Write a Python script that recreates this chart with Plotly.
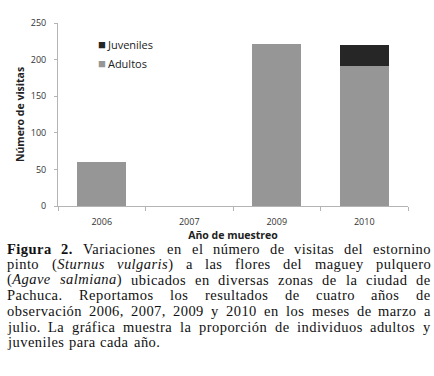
import re
import plotly.graph_objects as go

# ---------------- data ----------------
years = ["2006", "2007", "2009", "2010"]
adultos = [60, 0, 221, 191]
juveniles = [0, 0, 0, 29]
y_ticks = [0, 50, 100, 150, 200, 250]
series_names = ["Juveniles", "Adultos"]
series_colors = ["#262626", "#969696"]

caption_lines = [
    "<b>Figura</b> <b>2.</b> Variaciones en el número de visitas del estornino",
    "pinto (<i>Sturnus</i> <i>vulgaris</i>) a las flores del maguey pulquero",
    "(<i>Agave</i> <i>salmiana</i>) ubicados en diversas zonas de la ciudad de",
    "Pachuca. Reportamos los resultados de cuatro años de",
    "observación 2006, 2007, 2009 y 2010 en los meses de marzo a",
    "julio. La gráfica muestra la proporción de individuos adultos y",
    "juveniles para cada año.",
]

# ---------------- layout geometry ----------------
W, H = 434, 376
L, R, T, B = 58, 26, 23, 170
PW = W - L - R
PH = H - T - B


def px_x(px):
    return (px - L) / PW


def px_y(py):
    return (H - B - py) / PH


# Times-like metrics (per 1000 em) for justification of the caption
NORMAL = {' ': 250, '(': 333, ')': 333, ',': 250, '.': 250,
          'A': 722, 'L': 611, 'P': 556, 'R': 667, 'V': 722,
          'a': 444, 'b': 500, 'c': 444, 'd': 500, 'e': 444, 'f': 333, 'g': 500,
          'h': 500, 'i': 278, 'j': 278, 'k': 500, 'l': 278, 'm': 778, 'n': 500,
          'o': 500, 'p': 500, 'q': 500, 'r': 333, 's': 389, 't': 278, 'u': 500,
          'v': 500, 'w': 722, 'x': 500, 'y': 500, 'z': 444,
          'á': 444, 'é': 444, 'í': 278, 'ó': 500, 'ú': 500, 'ñ': 500}
for dch in "0123456789":
    NORMAL[dch] = 500
ITALIC = {'S': 500, 'A': 611, 'a': 500, 'e': 444, 'g': 500, 'i': 278, 'l': 278,
          'm': 722, 'n': 500, 'r': 389, 's': 389, 't': 278, 'u': 500, 'v': 444}
BOLD = {'F': 611, 'i': 278, 'g': 500, 'u': 556, 'r': 444, 'a': 500, '2': 500, '.': 250}

CAP_SIZE = 14.5
LETTER_SP = 0.45


def word_width(word):
    total = 0.0
    style = NORMAL
    for tok in re.split(r"(<[^>]+>)", word):
        if tok == "<b>":
            style = BOLD
        elif tok == "<i>":
            style = ITALIC
        elif tok in ("</b>", "</i>"):
            style = NORMAL
        else:
            for ch in tok:
                total += style.get(ch, NORMAL.get(ch, 500)) * CAP_SIZE / 1000.0 + LETTER_SP
    return total


fig = go.Figure()
fig.add_trace(go.Bar(x=years, y=adultos, name="Adultos", showlegend=False,
                     marker=dict(color=series_colors[1], line=dict(width=0))))
fig.add_trace(go.Bar(x=years, y=juveniles, name="Juveniles", showlegend=False,
                     marker=dict(color=series_colors[0], line=dict(width=0))))

annotations = []
left_px, right_px = 6, 430
line_centers = [249.2, 264.2, 279.6, 295.2, 311.0, 326.7, 341.7]
for i, line in enumerate(caption_lines):
    words = line.split(" ")
    widths = [word_width(w) for w in words]
    last = i == len(caption_lines) - 1
    if last or len(words) == 1:
        gap = 0.25 * CAP_SIZE + 1.5
    else:
        gap = (right_px - left_px - sum(widths)) / (len(words) - 1)
    xpos = left_px
    for w, wd in zip(words, widths):
        annotations.append(dict(
            text='<span style="letter-spacing:%.2fpx">%s</span>' % (LETTER_SP, w),
            xref="paper", yref="paper", x=px_x(xpos), y=px_y(line_centers[i]),
            xanchor="left", yanchor="middle", showarrow=False, borderpad=0,
            font=dict(family="Liberation Serif", size=CAP_SIZE, color="#111111")))
        xpos += wd + gap

# legend (key squares + labels)
legend_y = [44, 63]
for name, col, ly in zip(series_names, series_colors, legend_y):
    annotations.append(dict(
        text='<span style="color:%s;font-size:13px">■</span>'
             '<span style="font-size:8px"> </span>%s' % (col, name),
        xref="paper", yref="paper", x=px_x(97), y=px_y(ly),
        xanchor="left", yanchor="middle", showarrow=False, borderpad=0,
        font=dict(family="Open Sans", size=11, color="#222")))

fig.update_layout(
    width=W, height=H,
    margin=dict(l=L, r=R, t=T, b=B, pad=0),
    barmode="stack", bargap=0.44,
    paper_bgcolor="white", plot_bgcolor="white",
    showlegend=False,
    xaxis=dict(type="category", showline=True, linecolor="#b4b4b4", linewidth=1,
               ticks="outside", tickson="boundaries", ticklen=4, tickcolor="#b4b4b4",
               showgrid=False, zeroline=False, ticklabelstandoff=7,
               tickfont=dict(family="Open Sans", size=9, color="#333"),
               title=dict(text="<b>Año de muestreo</b>", standoff=0,
                          font=dict(family="Open Sans", size=10.5, color="#222"))),
    yaxis=dict(range=[0, 250], tickvals=y_ticks, showline=True, linecolor="#b4b4b4",
               linewidth=1, ticks="outside", ticklen=3, tickcolor="#b4b4b4",
               showgrid=False, zeroline=False, ticklabelstandoff=6,
               tickfont=dict(family="Open Sans", size=9, color="#333"),
               title=dict(text="<b>Número de visitas</b>", standoff=4,
                          font=dict(family="Open Sans", size=10.5, color="#222"))),
    annotations=annotations,
)

fig.write_html("out.html", config={"displayModeBar": False},
               post_script="document.body.style.margin='0';document.body.style.padding='0';")
